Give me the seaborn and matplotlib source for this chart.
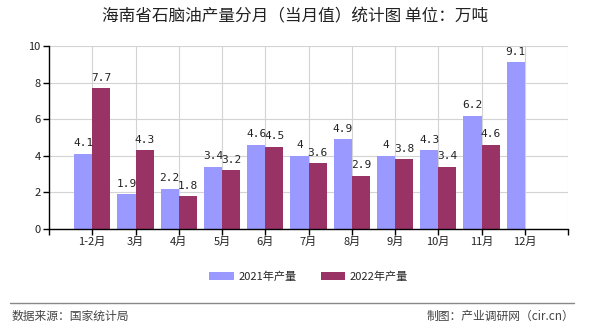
import numpy as np
import pandas as pd
import matplotlib
matplotlib.use("Agg")
import matplotlib.pyplot as plt
import seaborn as sns

categories = ["1-2月", "3月", "4月", "5月", "6月", "7月", "8月", "9月", "10月", "11月", "12月"]
series_names = ["2021年产量", "2022年产量"]
values_2021 = [4.1, 1.9, 2.2, 3.4, 4.6, 4.0, 4.9, 4.0, 4.3, 6.2, 9.1]
values_2022 = [7.7, 4.3, 1.8, 3.2, 4.5, 3.6, 2.9, 3.8, 3.4, 4.6, np.nan]
yticks = [0, 2, 4, 6, 8, 10]
title = "海南省石脑油产量分月（当月值）统计图 单位：万吨"
source = "数据来源：国家统计局"
credit = "制图：产业调研网（cir.cn）"

colors = ["#9999FF", "#993366"]

df = pd.DataFrame({
    "月份": categories * 2,
    "系列": [series_names[0]] * len(categories) + [series_names[1]] * len(categories),
    "产量": values_2021 + values_2022,
})

sns.set_theme(style="white")
plt.rcParams["font.family"] = ["Noto Sans CJK SC", "DejaVu Sans"]

fig = plt.figure(figsize=(5.9, 3.3), dpi=100)
ax = fig.add_axes([49 / 590, 1 - 229 / 330, (568 - 49) / 590, (229 - 46) / 330])

sns.barplot(data=df, x="月份", y="产量", hue="系列", palette=colors,
            width=0.84, ax=ax, saturation=1, legend=True, order=categories,
            hue_order=series_names, linewidth=0, edgecolor="none")

for cont in ax.containers:
    labels = []
    for v in cont.datavalues:
        if np.isnan(v):
            labels.append("")
        else:
            labels.append(("%g" % v))
    ax.bar_label(cont, labels=labels, padding=4, fontsize=8,
                 family=["DejaVu Sans Mono"], color="#222222")

ax.set_xlim(-1, 11)
ax.set_ylim(0, 10)
ax.set_yticks(yticks)
ax.set_yticklabels([str(t) for t in yticks], fontsize=8)
ax.set_xticks(range(-1, 12))
ax.set_xticklabels([""] + categories + [""], fontsize=8)
for x in range(0, 12):
    ax.axvline(x, color="#d3d3d3", lw=0.8, zorder=0)
ax.yaxis.grid(True, color="#d3d3d3", lw=0.8)
ax.set_axisbelow(True)
ax.set_xlabel("")
ax.set_ylabel("")
for s in ["top", "right"]:
    ax.spines[s].set_visible(False)
for s in ["left", "bottom"]:
    ax.spines[s].set_color("black")
    ax.spines[s].set_linewidth(1.0)
ax.tick_params(axis="both", direction="out", length=4, width=1, color="black",
               labelcolor="#222222", pad=2, left=True, bottom=True)

leg = ax.legend(loc="center", bbox_to_anchor=(0.5, -0.26), ncol=2, frameon=False,
                fontsize=8, handlelength=2.2, handleheight=0.8, columnspacing=2.2,
                handletextpad=0.4)

fig.text(0.5, 1 - 17 / 330, title, ha="center", va="center", fontsize=12, color="#222222")
fig.add_artist(plt.Line2D([10 / 590, 574 / 590], [1 - 303 / 330, 1 - 303 / 330],
                          color="#888888", lw=1, transform=fig.transFigure))
fig.text(12 / 590, 1 - 316 / 330, source, ha="left", va="center", fontsize=8.5, color="#444444")
fig.text(574 / 590, 1 - 316 / 330, credit, ha="right", va="center", fontsize=8.5, color="#444444")

fig.savefig("out.png", dpi=100)
